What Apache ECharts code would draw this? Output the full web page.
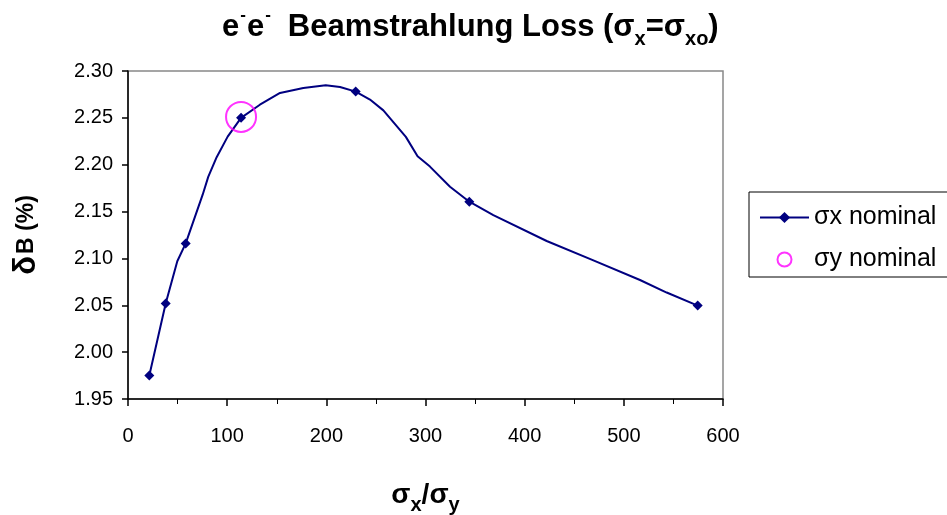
<!DOCTYPE html>
<html>
<head>
<meta charset="utf-8">
<script src="https://cdn.jsdelivr.net/npm/echarts@6/dist/echarts.min.js"></script>
<style>
html,body{margin:0;padding:0;background:#fff;}
#chart{width:947px;height:515px;}
</style>
</head>
<body>
<div id="chart"></div>
<script>
// sigma_x / sigma_y ratio and beamstrahlung loss (%) along the sigma_x nominal curve
var curveX = [21.5, 38, 49.7, 58.2, 75.3, 80.9, 89.4, 100.5, 114, 133, 153.3, 176.8, 199.4, 213.8, 229.6, 244, 257.5, 280.2, 292, 304.5, 324.7, 344.2, 368.4, 422.2, 468.1, 516.3, 543.2, 574.5];
var curveY = [1.975, 2.052, 2.097, 2.116, 2.168, 2.187, 2.208, 2.230, 2.250, 2.264, 2.2766, 2.2819, 2.2848, 2.283, 2.278, 2.2695, 2.258, 2.2297, 2.209, 2.198, 2.1765, 2.1605, 2.1463, 2.1186, 2.0984, 2.077, 2.0636, 2.0497];
// which curve points are shown with a diamond marker
var hasMarker = [true, true, false, true, false, false, false, false, true, false, false, false, false, false, true, false, false, false, false, false, false, true, false, false, false, false, false, true];
// sigma_y nominal point
var nominalX = [114];
var nominalY = [2.251];
var yTicks = [1.95, 2.30, 0.05];
var xTicks = [0, 600, 100];
var seriesNames = ['σx nominal', 'σy nominal'];

var lineData = curveX.map(function (x, i) {
  var item = { value: [x, curveY[i]] };
  if (!hasMarker[i]) item.symbol = 'none';
  return item;
});
var nominalData = nominalX.map(function (x, i) { return [x, nominalY[i]]; });

var chart = echarts.init(document.getElementById('chart'));
var FONT = 'Liberation Sans, Arial, sans-serif';
chart.setOption({
  backgroundColor: '#ffffff',
  animation: false,
  title: {
    left: 217,
    top: 2,
    text: '{b|e}{sup|-}{b|e}{sup|-}{gap|}{b|Beamstrahlung Loss (σ}{sub|x}{b|=σ}{sub|xo}{b|)}',
    textStyle: {
      rich: {
        b: { fontFamily: FONT, fontWeight: 'bold', fontSize: 31, color: '#000', lineHeight: 36, verticalAlign: 'bottom' },
        sup: { fontFamily: FONT, fontWeight: 'bold', fontSize: 17, color: '#000', lineHeight: 36, verticalAlign: 'top', padding: [0, 1, 0, 1] },
        gap: { width: 16 },
        sub: { fontFamily: FONT, fontWeight: 'bold', fontSize: 20, color: '#000', lineHeight: 22, verticalAlign: 'bottom', padding: [0, 0, -6, 0] }
      }
    }
  },
  grid: {
    left: 128, top: 71, width: 595, height: 328,
    show: true, borderColor: '#888888', borderWidth: 1.5,
    outerBoundsMode: 'none'
  },
  legend: {
    orient: 'vertical',
    left: 749, top: 192,
    padding: [13, 60, 5, 10],
    itemGap: 17,
    itemWidth: 49, itemHeight: 14,
    borderColor: '#000', borderWidth: 1,
    textStyle: { fontFamily: FONT, fontSize: 25, color: '#000', padding: [0, 0, 0, 0] },
    data: seriesNames
  },
  xAxis: {
    type: 'value',
    min: xTicks[0], max: xTicks[1], interval: xTicks[2],
    name: '{b|σ}{sub|x}{b|/σ}{sub|y}',
    nameLocation: 'middle', nameGap: 80,
    nameTextStyle: {
      rich: {
        b: { fontFamily: FONT, fontWeight: 'bold', fontSize: 28, color: '#000', lineHeight: 30, verticalAlign: 'bottom' },
        sub: { fontFamily: FONT, fontWeight: 'bold', fontSize: 20, color: '#000', lineHeight: 20, verticalAlign: 'bottom', padding: [0, 0, -6, 0] }
      }
    },
    axisLine: { show: true, lineStyle: { color: '#000', width: 1.5 } },
    axisTick: { show: true, length: 7, lineStyle: { color: '#000', width: 1.5 } },
    minorTick: { show: true, splitNumber: 2, length: 5, lineStyle: { color: '#000', width: 1 } },
    splitLine: { show: false },
    axisLabel: { margin: 27, fontFamily: FONT, fontSize: 20, color: '#000' }
  },
  yAxis: {
    type: 'value',
    min: yTicks[0], max: yTicks[1], interval: yTicks[2],
    name: '{d|δ}{b|B (%)}',
    nameLocation: 'middle', nameGap: 86,
    nameTextStyle: {
      rich: {
        d: { fontFamily: FONT, fontWeight: 'bold', fontSize: 31, color: '#000', padding: [0, 2, 0, 0] },
        b: { fontFamily: FONT, fontWeight: 'bold', fontSize: 23, color: '#000' }
      }
    },
    axisLine: { show: true, lineStyle: { color: '#000', width: 1.5 } },
    axisTick: { show: true, length: 6, lineStyle: { color: '#000', width: 1.5 } },
    splitLine: { show: false },
    axisLabel: {
      margin: 15, fontFamily: FONT, fontSize: 20, color: '#000',
      formatter: function (v) { return v.toFixed(2); }
    }
  },
  series: [
    {
      name: seriesNames[0],
      type: 'line',
      data: lineData,
      symbol: 'diamond',
      symbolSize: 10,
      showAllSymbol: true,
      itemStyle: { color: '#000080' },
      lineStyle: { color: '#000080', width: 2 },
      z: 3
    },
    {
      name: seriesNames[1],
      type: 'scatter',
      data: nominalData,
      symbol: 'circle',
      symbolSize: 30,
      itemStyle: { color: 'rgba(0,0,0,0)', borderColor: '#ff00ff', borderWidth: 2 },
      z: 4
    }
  ]
});
</script>
</body>
</html>
